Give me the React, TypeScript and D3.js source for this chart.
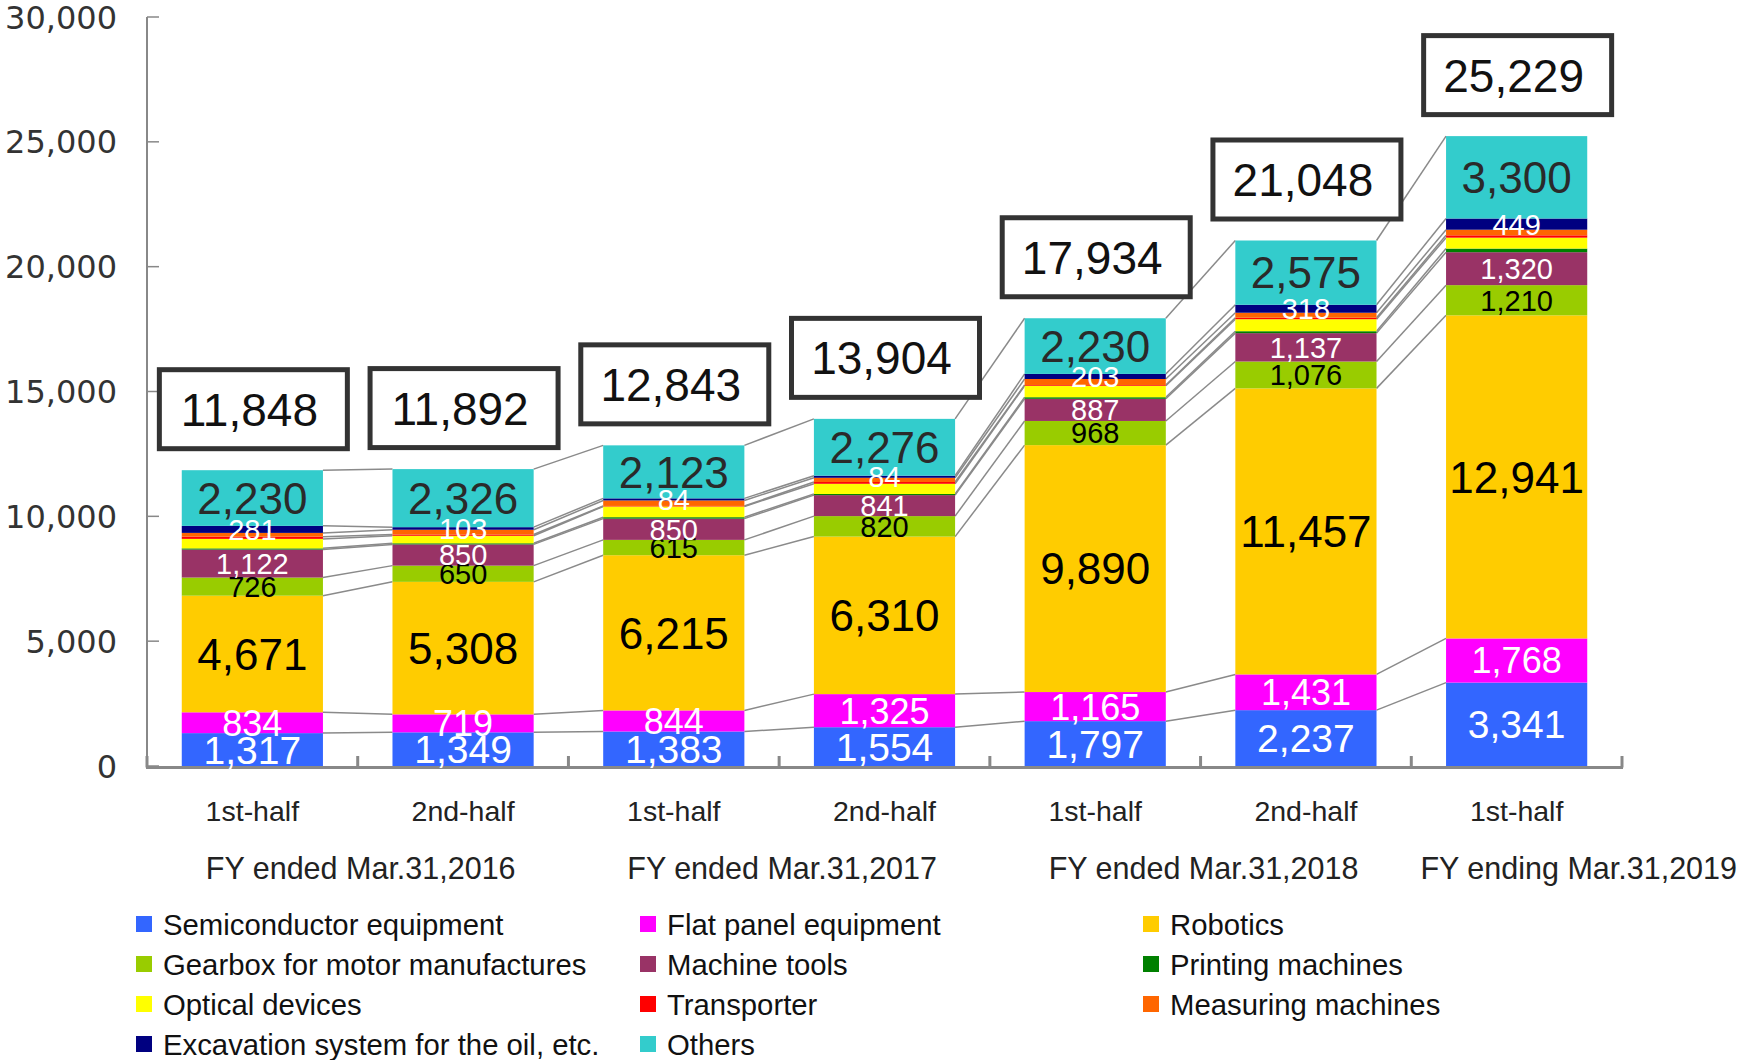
import * as d3 from "d3";

const periods = ["1st-half", "2nd-half", "1st-half", "2nd-half", "1st-half", "2nd-half", "1st-half"];
const fiscalYears = ["FY ended Mar.31,2016", "FY ended Mar.31,2017", "FY ended Mar.31,2018", "FY ending Mar.31,2019"];
const yearSpans = [[0, 1], [2, 3], [4, 5], [6, 6]];
const totals = [11848, 11892, 12843, 13904, 17934, 21048, 25229];

const seriesNames = [
    "Semiconductor equipment", "Flat panel equipment", "Robotics",
    "Gearbox for motor manufactures", "Machine tools", "Printing machines",
    "Optical devices", "Transporter", "Measuring machines",
    "Excavation system for the oil, etc.", "Others",
];

const semiconductor = [1317, 1349, 1383, 1554, 1797, 2237, 3341];
const flatPanel = [834, 719, 844, 1325, 1165, 1431, 1768];
const robotics = [4671, 5308, 6215, 6310, 9890, 11457, 12941];
const gearbox = [726, 650, 615, 820, 968, 1076, 1210];
const machineTools = [1122, 850, 850, 841, 887, 1137, 1320];
const printing = [47, 45, 59, 44, 64, 77, 145];
const optical = [380, 300, 430, 410, 460, 480, 437];
const transporter = [90, 50, 20, 70, 30, 60, 93];
const measuring = [150, 192, 220, 170, 240, 200, 225];
const excavation = [281, 103, 84, 84, 203, 318, 449];
const others = [2230, 2326, 2123, 2276, 2230, 2575, 3300];

const seriesValues = [semiconductor, flatPanel, robotics, gearbox, machineTools, printing,
    optical, transporter, measuring, excavation, others];

const colors = ["#3366FF", "#FF00FF", "#FFCC00", "#99CC00", "#993366", "#008000",
    "#FFFF00", "#FF0000", "#FF6600", "#000080", "#33CCCC"];

// label styling per series (null = no label)
const labelStyle: ({ fill: string, size: number } | null)[] = [
    {fill: "#fff", size: 39}, {fill: "#fff", size: 36}, {fill: "#000", size: 44},
    {fill: "#000", size: 29}, {fill: "#fff", size: 29}, null,
    null, null, null,
    {fill: "#fff", size: 29}, {fill: "#2a2a2a", size: 44},
];

const yTicks = [0, 5000, 10000, 15000, 20000, 25000, 30000];

const FONT = "'Liberation Sans', Arial, sans-serif";

function App() {
    const width = 1740;
    const height = 1060;
    const axisLeft = 147;
    const axisRight = 1622;

    const rows = periods.map((p, i) => {
        const r: any = {idx: i};
        seriesNames.forEach((s, k) => { r[s] = seriesValues[k][i]; });
        return r;
    });
    const stacked = d3.stack<any>().keys(seriesNames)(rows);

    const xScale = d3.scaleBand<number>()
        .domain(periods.map((_, i) => i))
        .range([axisLeft, axisRight])
        .paddingInner(0.33)
        .paddingOuter(0.165);
    const bw = xScale.bandwidth();

    const yScale = d3.scaleLinear().domain([0, 30000]).range([766, 17]);
    const fmt = d3.format(",");

    const lineGen = d3.line<[number, number]>();

    return (
        <svg width={width} height={height} style={{position: "absolute", left: 0, top: 0, background: "#fff"}}>
            {/* series lines */}
            {stacked.map((layer, k) =>
                layer.slice(0, -1).map((d, i) => {
                    const next = layer[i + 1];
                    return <path key={`sl${k}-${i}`}
                                 d={lineGen([[xScale(i)! + bw, yScale(d[1])], [xScale(i + 1)!, yScale(next[1])]]) || ""}
                                 stroke="#8a8a8a" strokeWidth={1.5} fill="none"/>
                })
            )}
            {/* bars */}
            {stacked.map((layer, k) =>
                layer.map((d, i) =>
                    <rect key={`b${k}-${i}`} x={xScale(i)} y={yScale(d[1])} width={bw}
                          height={yScale(d[0]) - yScale(d[1])} fill={colors[k]}/>
                )
            )}
            {/* axes */}
            <line x1={axisLeft} x2={axisLeft} y1={yScale(30000)} y2={yScale(0) + 1.5} stroke="#888" strokeWidth={2}/>
            {yTicks.map(t =>
                <g key={`yt${t}`}>
                    <line x1={axisLeft} x2={axisLeft + 12} y1={yScale(t)} y2={yScale(t)} stroke="#888" strokeWidth={1.5}/>
                    <text x={117} y={yScale(t)} dy="0.36em" textAnchor="end"
                          style={{fontFamily: "'DejaVu Sans', sans-serif", fontSize: 32, fill: "#333"}}>{fmt(t)}</text>
                </g>
            )}
            <line x1={axisLeft - 1} x2={axisRight + 1} y1={yScale(0) + 1.5} y2={yScale(0) + 1.5} stroke="#888" strokeWidth={3}/>
            {d3.range(periods.length + 1).map(i => {
                const xx = axisLeft + i * xScale.step();
                return <line key={`xt${i}`} x1={xx} x2={xx} y1={yScale(0) + 1.5} y2={yScale(0) - 10} stroke="#888" strokeWidth={3}/>
            })}
            {/* value labels */}
            {stacked.map((layer, k) => {
                const st = labelStyle[k];
                if (!st) return null;
                return layer.map((d, i) =>
                    <text key={`l${k}-${i}`} x={xScale(i)! + bw / 2} y={(yScale(d[0]) + yScale(d[1])) / 2}
                          dy="0.36em" textAnchor="middle"
                          style={{fontFamily: FONT, fontSize: st.size, fill: st.fill}}>{fmt(seriesValues[k][i])}</text>
                )
            })}
            {/* total boxes */}
            {totals.map((t, i) => {
                const cx = xScale(i)! + bw / 2 + 1;
                const bottom = yScale(t) - 19;
                return <g key={`tot${i}`}>
                    <rect x={cx - 94} y={bottom - 81.5} width={188} height={79} fill="#fff" stroke="#333" strokeWidth={5}/>
                    <text x={cx - 4} y={bottom - 42} dy="0.36em" textAnchor="middle"
                          style={{fontFamily: FONT, fontSize: 46, fill: "#111"}}>{fmt(t)}</text>
                </g>
            })}
            {/* category labels */}
            {periods.map((p, i) =>
                <text key={`p${i}`} x={xScale(i)! + bw / 2} y={811} dy="0.36em" textAnchor="middle"
                      style={{fontFamily: FONT, fontSize: 28.5, fill: "#222"}}>{p}</text>
            )}
            {fiscalYears.map((fy, j) => {
                const [a, b] = yearSpans[j];
                const c = (xScale(a)! + xScale(b)! + bw) / 2;
                const last = j === fiscalYears.length - 1;
                return <text key={`fy${j}`} x={last ? width - 3 : c + 3} y={868} dy="0.36em"
                             textAnchor={last ? "end" : "middle"}
                             style={{fontFamily: FONT, fontSize: 30.5, fill: "#222"}}>{fy}</text>
            })}
            {/* legend */}
            {seriesNames.map((s, k) => {
                const col = k % 3;
                const row = Math.floor(k / 3);
                const lx = [136, 640, 1143][col];
                const ly = 924 + row * 40;
                return <g key={`lg${k}`}>
                    <rect x={lx} y={ly - 8} width={16} height={16} fill={colors[k]}/>
                    <text x={lx + 27} y={ly} dy="0.36em"
                          style={{fontFamily: FONT, fontSize: 29.3, fill: "#111"}}>{s}</text>
                </g>
            })}
        </svg>
    )
}

export default App
